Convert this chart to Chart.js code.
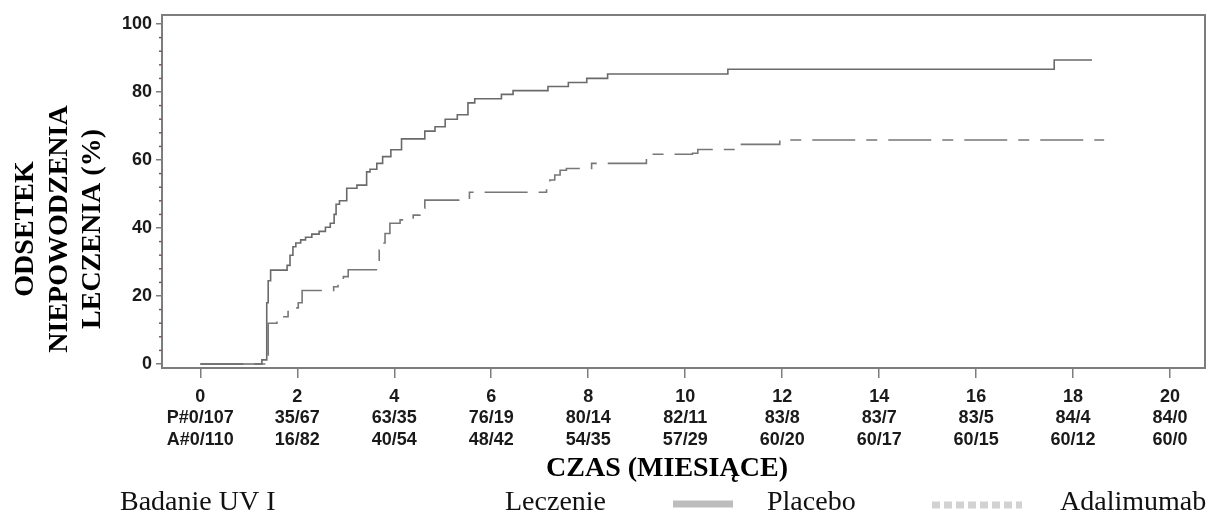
<!DOCTYPE html>
<html>
<head>
<meta charset="utf-8">
<script src="https://cdn.jsdelivr.net/npm/chart.js@4.4.1/dist/chart.umd.min.js"></script>
<style>
  html, body { margin: 0; padding: 0; background: #fff; }
  canvas { display: block; }
</style>
</head>
<body>
<canvas id="km" width="1214" height="513"></canvas>
<script>
// Kaplan-Meier style curves
const placeboTimes = [0, 1.27, 1.37, 1.40, 1.45, 1.79, 1.85, 1.91, 1.97, 2.07, 2.17, 2.30, 2.45, 2.58, 2.68, 2.76, 2.80, 2.87,
  3.02, 3.23, 3.43, 3.50, 3.64, 3.76, 3.93, 4.15, 4.63, 4.84, 5.05, 5.30, 5.52, 5.66, 6.21, 6.45, 7.17, 7.59, 7.97, 8.40,
  10.88, 17.61, 18.39]
const placeboRates = [0, 1.2, 18, 24.5, 27.6, 29, 32, 34.5, 35.6, 36.5, 37.3, 38.2, 39, 40.2, 41.4, 44, 47, 48,
  51.7, 52.6, 56.5, 57.3, 59, 61, 63, 66.2, 68.5, 69.8, 72, 73.3, 76.8, 78, 79.3, 80.4, 81.6, 82.8, 84, 85.3,
  86.7, 89.4, 89.4]

const adaTimes = [0, 1.40, 1.58, 1.81, 1.92, 2.02, 2.10, 2.75, 2.84, 2.95, 3.05, 3.69, 3.74, 3.81, 3.91, 4.12, 4.39, 4.53,
  4.63, 5.55, 7.14, 7.21, 7.31, 7.42, 7.55, 8.07, 9.20, 9.24, 10.15, 10.26, 11.05, 11.95, 18.64]
const adaRates = [0, 12, 13.9, 15.4, 16.5, 18, 21.6, 22.7, 24.2, 25.7, 27.7, 33.5, 35.6, 38.4, 41.4, 42.4, 43.8, 45.8,
  48.2, 50.5, 52.6, 54.1, 55.6, 57, 57.5, 59, 60.5, 61.7, 62, 63.1, 64.6, 65.9, 65.9]

const xTicks = [0, 2, 4, 6, 8, 10, 12, 14, 16, 18, 20]
const placeboAtRisk = ['P#0/107', '35/67', '63/35', '76/19', '80/14', '82/11', '83/8', '83/7', '83/5', '84/4', '84/0']
const adaAtRisk = ['A#0/110', '16/82', '40/54', '48/42', '54/35', '57/29', '60/20', '60/17', '60/15', '60/12', '60/0']
const yTicks = [0, 20, 40, 60, 80, 100]

const yTitle = ['ODSETEK', 'NIEPOWODZENIA', 'LECZENIA (%)']
const xTitle = 'CZAS (MIESIĄCE)'
const legendTitle = 'Badanie UV I'
const legendHeader = 'Leczenie'
const seriesNames = ['Placebo', 'Adalimumab']

const toPoints = (xs, ys) => xs.map((x, i) => ({x, y: ys[i]}))

const sans = "'Liberation Sans', Arial, sans-serif"
const serif = "'Liberation Serif', 'Times New Roman', serif"

const framePlugin = {
  id: 'frame',
  afterDraw(chart) {
    const {ctx, chartArea: a, scales} = chart
    ctx.save()
    ctx.strokeStyle = '#7d7d7d'
    ctx.lineWidth = 2
    ctx.strokeRect(a.left, a.top, a.right - a.left, a.bottom - a.top)

    // minor ticks on y axis
    ctx.strokeStyle = '#7a5a62'
    ctx.lineWidth = 1.5
    for (let v = 4; v < 100; v += 4) {
      if (v % 20 === 0) continue
      const y = scales.y.getPixelForValue(v)
      ctx.beginPath()
      ctx.moveTo(a.left - 3, y)
      ctx.lineTo(a.left, y)
      ctx.stroke()
    }

    // y title, three rotated lines
    ctx.fillStyle = '#000'
    ctx.font = 'bold 28px ' + serif
    ctx.textAlign = 'center'
    ctx.textBaseline = 'alphabetic'
    const cols = [33, 67, 100]
    yTitle.forEach((t, i) => {
      ctx.save()
      ctx.translate(cols[i], 229)
      ctx.rotate(-Math.PI / 2)
      ctx.fillText(t, 0, 0)
      ctx.restore()
    })

    // x title
    ctx.fillText(xTitle, 667, 476)

    // legend row
    ctx.font = '28px ' + serif
    ctx.fillStyle = '#111'
    ctx.textAlign = 'left'
    ctx.fillText(legendTitle, 120, 510)
    ctx.fillText(legendHeader, 505, 510)
    ctx.fillText(seriesNames[0], 767, 510)
    ctx.fillText(seriesNames[1], 1060, 510)

    ctx.lineWidth = 7
    ctx.strokeStyle = '#bdbdbd'
    ctx.beginPath()
    ctx.moveTo(673, 504)
    ctx.lineTo(733, 504)
    ctx.stroke()

    ctx.strokeStyle = '#d2d2d2'
    ctx.setLineDash([8, 4])
    ctx.beginPath()
    ctx.moveTo(932, 505)
    ctx.lineTo(1022, 505)
    ctx.stroke()
    ctx.restore()
  }
}

const config = {
  type: 'line',
  data: {
    datasets: [
      {
        label: seriesNames[0],
        data: toPoints(placeboTimes, placeboRates),
        borderColor: '#6a6a6a',
        borderWidth: 1.6,
        stepped: 'before',
        pointRadius: 0,
        fill: false
      },
      {
        label: seriesNames[1],
        data: toPoints(adaTimes, adaRates),
        borderColor: '#777',
        borderWidth: 1.6,
        borderDash: [43, 11, 11, 11],
        stepped: 'before',
        pointRadius: 0,
        fill: false
      }
    ]
  },
  options: {
    responsive: false,
    animation: false,
    layout: { padding: { top: 15, right: 9, left: 0, bottom: 0 } },
    plugins: { legend: { display: false }, tooltip: { enabled: false } },
    scales: {
      x: {
        type: 'linear',
        min: -0.79,
        max: 20.72,
        afterBuildTicks: (scale) => { scale.ticks = xTicks.map((v) => ({value: v})) },
        afterFit: (scale) => { scale.height = 145 },
        grid: { drawOnChartArea: false, color: '#7d7d7d', tickLength: 10, lineWidth: 1.5 },
        border: { color: '#7d7d7d', width: 2 },
        ticks: {
          padding: 8,
          maxRotation: 0,
          autoSkip: false,
          color: '#1a1a1a',
          font: { family: sans, size: 18, weight: 'bold', lineHeight: 1.2 },
          callback: (v) => {
            const i = xTicks.indexOf(v)
            return [String(v), placeboAtRisk[i], adaAtRisk[i]]
          }
        }
      },
      y: {
        min: -1.18,
        max: 102.65,
        afterBuildTicks: (scale) => { scale.ticks = yTicks.map((v) => ({value: v})) },
        afterFit: (scale) => { scale.width = 162 },
        grid: { drawOnChartArea: false, color: '#7d7d7d', tickLength: 6, lineWidth: 1.5 },
        border: { color: '#7d7d7d', width: 2 },
        ticks: {
          padding: 4,
          color: '#1a1a1a',
          font: { family: sans, size: 18, weight: 'bold' }
        }
      }
    }
  },
  plugins: [framePlugin]
}

new Chart(document.getElementById('km'), config)
</script>
</body>
</html>
